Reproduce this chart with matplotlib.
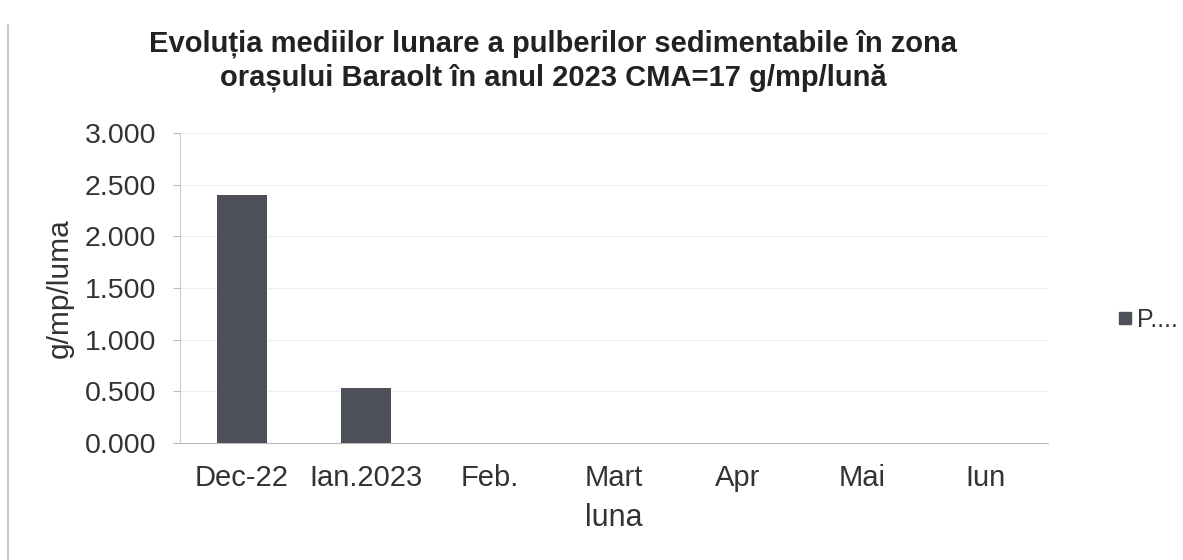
import matplotlib
matplotlib.use("Agg")
import matplotlib.pyplot as plt
from matplotlib.lines import Line2D

categories = ["Dec-22", "Ian.2023", "Feb.", "Mart", "Apr", "Mai", "Iun"]
values = [2.40, 0.53, 0, 0, 0, 0, 0]
yticks = [0.0, 0.5, 1.0, 1.5, 2.0, 2.5, 3.0]
ytick_labels = ["0.000", "0.500", "1.000", "1.500", "2.000", "2.500", "3.000"]
series_name = "P...."
title = "Evoluția mediilor lunare a pulberilor sedimentabile în zona\norașului Baraolt în anul 2023 CMA=17 g/mp/lună"

plt.rcParams['font.family'] = ['Liberation Sans', 'DejaVu Sans']
bar_color = "#4d5059"
text_color = "#333333"

fig = plt.figure(figsize=(11.83, 5.6), dpi=100)
ax = fig.add_axes([180/1183, 1 - 443/560, (1048-180)/1183, (443-133)/560])

x = list(range(len(categories)))
ax.bar(x, values, width=0.4, color=bar_color, label=series_name, zorder=3)
ax.set_xlim(-0.5, len(categories) - 0.5)
ax.set_ylim(0, 3.0)
ax.set_yticks(yticks)
ax.set_yticklabels(ytick_labels, fontsize=20.5, color=text_color)
ax.set_xticks(x)
ax.set_xticklabels(categories, fontsize=21, color=text_color)
ax.tick_params(axis='y', length=5, color="#bbbbbb", pad=12)
ax.tick_params(axis='x', length=0, pad=15)
ax.grid(axis='y', color="#eeeeee", linewidth=0.8, zorder=0)
for s in ["top", "right"]:
    ax.spines[s].set_visible(False)
ax.spines["left"].set_color("#cccccc")
ax.spines["bottom"].set_color("#bbbbbb")
ax.set_ylabel("g/mp/luma", fontsize=21.5, color=text_color, labelpad=8)
ax.set_xlabel("luna", fontsize=22, color=text_color, labelpad=8)

fig.text(553/1183, 1 - 61/560, title, ha="center", va="center", fontsize=21,
         fontweight="bold", color="#222222", linespacing=1.25)

fig.legend(handles=[Line2D([0], [0], marker='s', linestyle='none', markersize=9,
                           color=bar_color)], labels=[series_name],
           loc="center left", bbox_to_anchor=(1102/1183, 1 - 320/560), frameon=False,
           fontsize=18, handletextpad=0.1, borderpad=0, handlelength=0.8,
           labelcolor=text_color)

# page border line seen in the scan
fig.add_artist(Line2D([8/1183, 8/1183], [0, 1 - 25/560], transform=fig.transFigure,
                      color="#bbbbbb", linewidth=1.2))

fig.savefig("out.png", dpi=100)
